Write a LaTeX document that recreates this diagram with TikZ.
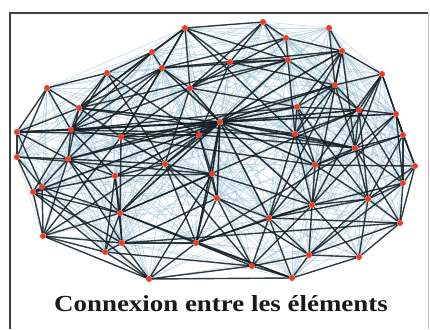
\documentclass[tikz,border=0pt]{standalone}
\usepackage{fontspec}
\setmainfont{Liberation Serif}
\usetikzlibrary{backgrounds}

\definecolor{dotred}{RGB}{232,62,40}
\definecolor{linkdark}{RGB}{18,30,34}
\definecolor{linkpale}{RGB}{140,182,205}

\tikzset{
  dot/.style={circle, fill=dotred, inner sep=0pt, minimum size=6pt},
  faint/.style={linkpale, line width=0.7pt, opacity=0.45},
  link/.style={linkdark, line width=1.4pt, opacity=0.85},
  hublink/.style={linkdark, line width=1.6pt, opacity=0.9},
  frame/.style={line width=1.4pt, black!75}
}

% node positions (pixels of the scan)
\def\nodelist{185/28, 263/22, 329/28, 286/38, 152/52, 342/51, 230/62, 288/60,
  162/68, 107/73, 382/74, 47/88, 190/88, 335/85, 79/108, 297/107, 359/110,
  396/114, 220/122, 17/132, 71/130, 121/137, 199/135, 295/134, 403/135,
  355/148, 17/157, 68/159, 165/164, 315/165, 415/166, 115/176, 212/174,
  42/187, 33/192, 403/183, 217/198, 368/199, 312/205, 120/213, 269/218,
  400/223, 43/236, 122/243, 196/243, 105/252, 309/255, 359/257, 252/266,
  292/278, 149/279}

\begin{document}
\begin{tikzpicture}[x=1pt, y=-1pt]
  \useasboundingbox (0,0) rectangle (430,329);

  % frame
  \draw[frame] (10,329) -- (10,13) -- (428,13);
  \draw[black!25, line width=0.8pt] (428,13) -- (428,329);

  % elements
  \foreach \x/\y [count=\i] in \nodelist
    \node[dot] (n\i) at (\x,\y) {};

  \begin{pgfonlayer}{background}
    % pale links between near elements
    \foreach \xa/\ya [count=\i] in \nodelist {
      \foreach \xb/\yb [count=\j] in \nodelist {
        \ifnum\j>\i
          \pgfmathtruncatemacro\near{veclen(\xa-\xb,\ya-\yb)<185}
          \ifnum\near=1 \draw[faint] (n\i) -- (n\j); \fi
        \fi
      }
    }

    % the hub
    \foreach \b in {20,21,15,22,13,9,23,29,28,35,32,16,17,24,18,26,30,39,
                    41,37,45,33,6,8,14,40}
      \draw[hublink] (n19) -- (n\b);

    % strong links
    \foreach \a/\b in {1/5,5/10,1/9,1/13,1/7,1/8,1/2,1/22,1/15,1/24,
      2/4,2/7,2/8,2/13,3/6,3/14,4/8,4/6,4/13,4/9,5/9,5/15,5/21,
      6/8,6/11,6/14,6/16,6/26,6/24,6/39,6/9,7/13,7/8,7/23,7/14,
      8/9,8/17,8/15,8/24,8/13,9/15,9/22,9/21,9/28,9/13,
      10/12,10/15,10/21,10/23,10/29,11/14,11/17,11/18,11/25,11/26,11/30,11/39,
      12/20,12/15,12/21,12/27,13/21,13/22,13/29,13/16,
      14/16,14/24,14/17,14/26,14/41,14/28,15/20,15/21,15/22,15/28,15/26,
      16/17,16/24,16/21,16/30,16/38,17/18,17/26,17/24,17/38,17/36,17/40,
      18/25,18/26,18/31,18/36,18/39,20/21,20/27,20/28,20/23,20/34,
      21/22,21/28,21/32,21/24,21/35,22/23,22/29,22/40,22/43,22/30,
      23/29,23/33,23/37,23/26,23/43,24/26,24/30,24/39,24/41,
      25/31,25/36,25/26,25/38,25/30,26/30,26/38,26/42,26/36,26/45,
      27/28,27/34,27/35,27/33,28/29,28/32,28/34,28/40,28/44,28/43,
      29/32,29/33,29/40,29/45,29/37,29/49,30/31,30/39,30/38,30/41,
      31/36,31/42,31/38,32/35,32/40,32/44,32/46,32/33,
      33/37,33/40,33/39,33/45,33/51,34/35,34/43,34/40,34/51,
      35/43,35/44,35/46,35/40,36/42,36/38,36/47,36/39,
      37/41,37/45,37/49,37/47,37/44,38/39,38/42,38/48,38/47,38/41,
      39/41,39/47,39/48,39/49,39/45,40/44,40/45,40/46,40/43,40/50,
      41/45,41/49,41/47,41/50,41/42,42/48,42/47,42/44,
      43/46,43/44,43/51,44/45,44/51,44/46,45/49,45/51,45/50,
      46/51,46/49,47/48,47/50,47/49,48/50,49/50,49/51,50/51}
      \draw[link] (n\a) -- (n\b);
  \end{pgfonlayer}

  % caption
  \node[anchor=base, font=\bfseries\fontsize{23}{27}\selectfont, text=black!90]
    (caption) at (221,311.5) {\scalebox{1.17}[1]{Connexion entre les éléments}};
\end{tikzpicture}
\end{document}
